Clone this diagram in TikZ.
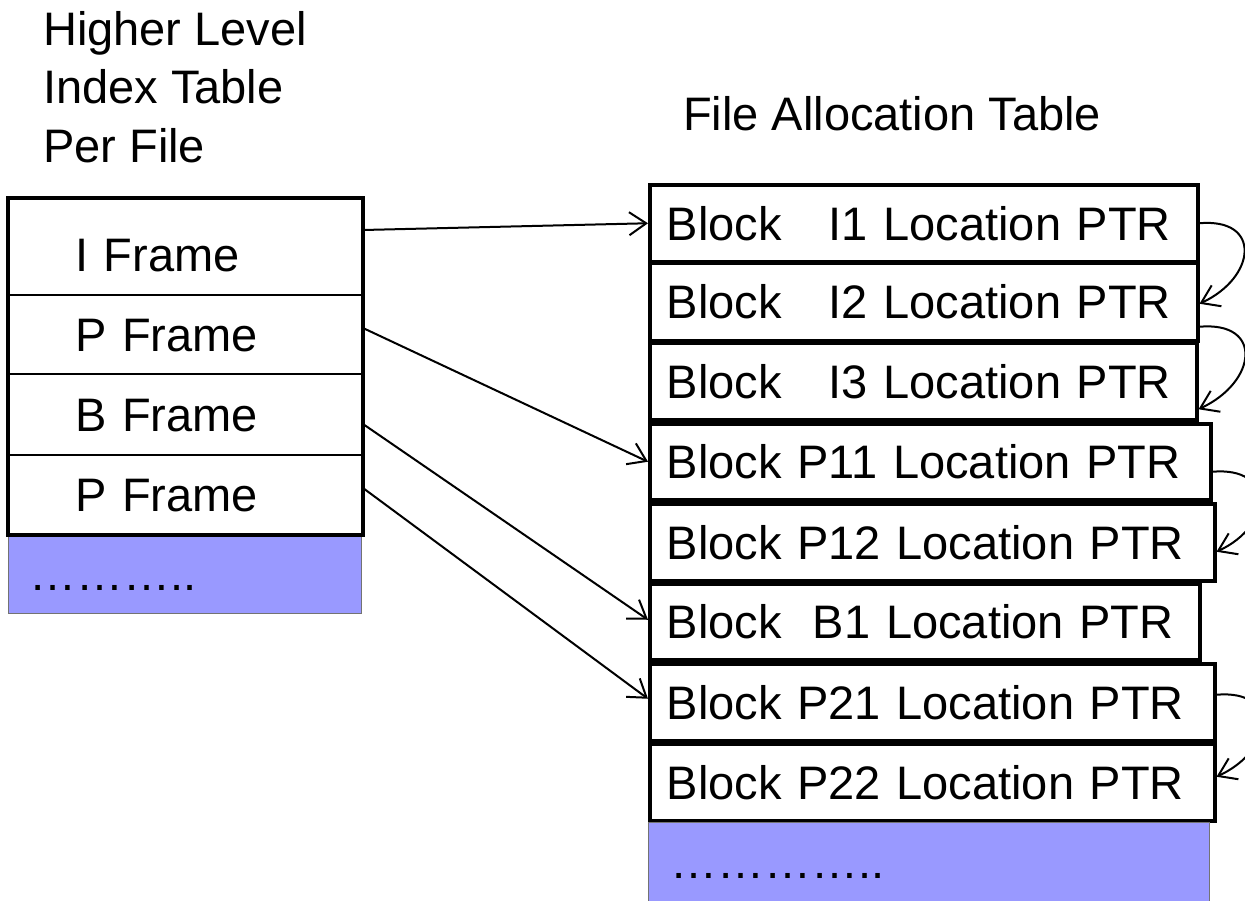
\documentclass[tikz,border=0pt]{standalone}
\usepackage{fontspec}
\setmainfont{Liberation Sans}
\usetikzlibrary{arrows.meta}
\definecolor{fillblue}{HTML}{9999FF}

\begin{document}
\begin{tikzpicture}[x=1pt,y=-1pt,
  every node/.style={font=\fontsize{47}{58.5}\selectfont},
  title/.style={anchor=base west, align=left, inner sep=0pt},
  % rows of the per-file index table
  idxrow/.style={draw, line width=2pt, anchor=north west, minimum width=353pt,
    inner xsep=66pt, inner ysep=0pt, text width=221pt, align=left,
    text height=33pt, text depth=0pt},
  % rows of the allocation table
  fatrow/.style={draw, line width=3.5pt, anchor=north west,
    inner xsep=17pt, inner ysep=0pt, align=left,
    text height=34pt, text depth=0pt},
  moreidx/.style={draw=black!55, line width=1pt, fill=fillblue, anchor=north west,
    inner ysep=0pt, align=left, text height=33pt, text depth=0pt},
  link/.style={line width=2pt, -{Straight Barb[length=17pt,width=23pt]}},
  chain/.style={link, out=5, in=25, looseness=2}
]
\useasboundingbox (0,0) rectangle (1245,900);

% headings (a multi-line node sits on the baseline of its last line)
\node[title] (hdrleft) at (43,162) {Higher Level\\Index Table\\Per File};
\node[title] (hdrright) at (683,130) {File Allocation Table};

% higher level index table
\node[idxrow, minimum height=96pt, text height=48pt] (iframe) at (8,198) {I Frame};
\node[idxrow, minimum height=79pt] (pframe1) at (8,294) {P Frame};
\node[idxrow, minimum height=81pt] (bframe) at (8,373) {B Frame};
\node[idxrow, minimum height=79pt] (pframe2) at (8,454) {P Frame};
\node[moreidx, minimum width=353pt, minimum height=80pt, inner xsep=21pt,
      text width=311pt] (idxmore) at (8,533) {………..};
\draw[line width=3.5pt] (iframe.north west) rectangle (pframe2.south east);

% file allocation table
\node[fatrow, minimum height=77pt, text width=514pt] (i1) at (648,183) {Block\ \ \ I1 Location PTR};
\node[fatrow, minimum height=78pt, text width=514pt] (i2) at (648,261) {Block\ \ \ I2 Location PTR};
\node[fatrow, minimum height=77pt, text width=513pt] (i3) at (648,341) {Block\ \ \ I3 Location PTR};
\node[fatrow, minimum height=76pt, text width=527pt] (p11) at (648,422) {Block P11 Location PTR};
\node[fatrow, minimum height=77pt, text width=531pt] (p12) at (648,502) {Block P12 Location PTR};
\node[fatrow, minimum height=76pt, text width=516pt] (b1) at (648,582) {Block\ \ B1 Location PTR};
\node[fatrow, minimum height=77pt, text width=531pt] (p21) at (648,662) {Block P21 Location PTR};
\node[fatrow, minimum height=77pt, text width=531pt] (p22) at (648,742) {Block P22 Location PTR};
\node[moreidx, minimum width=561pt, minimum height=80pt, inner xsep=22pt,
      text width=517pt, text height=32pt] (fatmore) at (648,822) {…………..};

% frame entries pointing into the allocation table
\draw[link] ([yshift=17pt]iframe.east) -- (i1.west);
\draw[link] ([yshift=6.5pt]pframe1.east) -- (p11.west);
\draw[link] ([yshift=-9.5pt]bframe.east) -- ([yshift=2pt]b1.west);
\draw[link] ([yshift=6.5pt]pframe2.east) -- ([yshift=3.5pt]p21.west);

% block chains
\draw[chain] (i1.east) to ([yshift=-2pt]i2.east);
\draw[chain] ([yshift=-25pt]i2.east) to ([yshift=-28pt]i3.east);
\draw[chain] ([yshift=-10pt]p11.east) to ([yshift=-9.5pt]p12.east);
\draw[chain] ([yshift=7.5pt]p21.east) to ([yshift=5.5pt]p22.east);
\end{tikzpicture}
\end{document}
